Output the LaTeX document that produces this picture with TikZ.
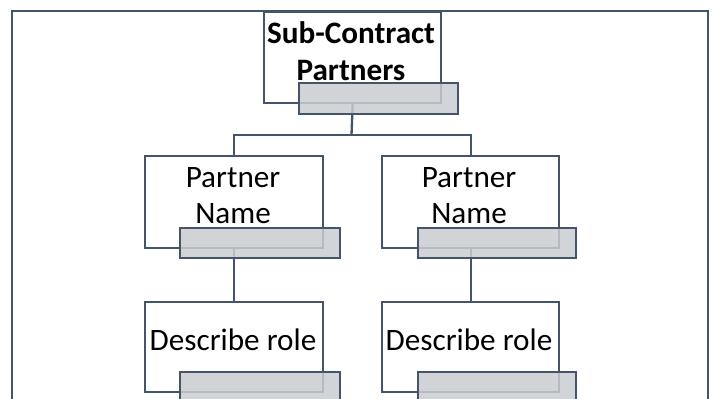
\documentclass[tikz,border=0pt]{standalone}
\usepackage{fontspec}
\setmainfont{Carlito}
\definecolor{slate}{HTML}{44546A}
\definecolor{tabgray}{RGB}{201,204,209}
\tikzset{
  wbox/.style={draw=slate, line width=2.3bp, fill=white, rectangle, anchor=north west, inner sep=0pt},
  gbox/.style={draw=slate, line width=2.3bp, fill=tabgray, fill opacity=0.85, draw opacity=1, rectangle, anchor=north west, inner sep=0pt},
  conn/.style={draw=slate, line width=2.3bp},
  txt/.style={anchor=base, inner sep=0pt, font=\fontsize{31.3}{37}\selectfont, text=black}
}
\begin{document}
\begin{tikzpicture}[x=1bp,y=-1bp]
\useasboundingbox (0,0) rectangle (716,398);
\clip (0,0) rectangle (716,398);
% outer frame
\draw[slate, line width=2.5bp] (12,430) -- (12,11) -- (708,11) -- (708,430);
% white boxes
\node[wbox, minimum width=177bp, minimum height=91bp] (top) at (263,11) {};
\node[wbox, minimum width=178bp, minimum height=92bp] (p1) at (144,155) {};
\node[wbox, minimum width=177bp, minimum height=92bp] (p2) at (381,155) {};
\node[wbox, minimum width=178bp, minimum height=90bp] (d1) at (144,301) {};
\node[wbox, minimum width=177bp, minimum height=90bp] (d2) at (381,301) {};
% connectors
\coordinate (jn) at (351.5,135);
\draw[conn] (top.south) -- (jn);
\draw[conn] (p1.north) |- (jn) -| (p2.north);
\draw[conn] (p1.south) -- (d1.north);
\draw[conn] (p2.south) -- (d2.north);
% texts
\node[txt] (t1) at (351,43) {\bfseries Sub-Contract};
\node[txt] (t2) at (351,80) {\bfseries Partners};
\node[txt] (pa1) at (233,187) {Partner};
\node[txt] (pb1) at (233,223) {Name};
\node[txt] (pa2) at (469,187) {Partner};
\node[txt] (pb2) at (469,223) {Name};
\node[txt] (r1) at (233,350) {Describe role};
\node[txt] (r2) at (469,350) {Describe role};
% gray tabs
\node[gbox, minimum width=159bp, minimum height=31bp] (gt) at (298,82) {};
\node[gbox, minimum width=160bp, minimum height=30bp] (g1) at (179,227) {};
\node[gbox, minimum width=158bp, minimum height=30bp] (g2) at (417,227) {};
\node[gbox, minimum width=160bp, minimum height=30bp] (g3) at (179,371) {};
\node[gbox, minimum width=158bp, minimum height=30bp] (g4) at (417,371) {};
\end{tikzpicture}
\end{document}
